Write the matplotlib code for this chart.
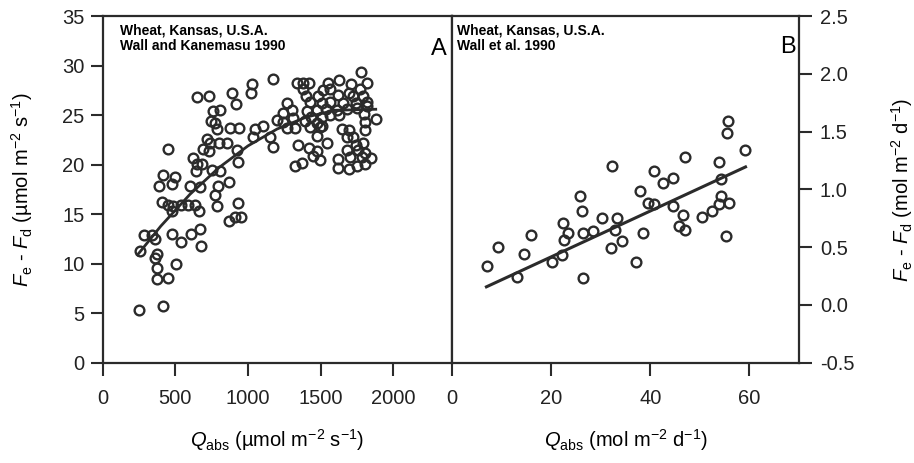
import numpy as np
import matplotlib
matplotlib.use("Agg")
import matplotlib.pyplot as plt

plt.rcParams['font.family'] = ['Liberation Sans', 'DejaVu Sans']
plt.rcParams['mathtext.fontset'] = 'custom'
plt.rcParams['mathtext.rm'] = 'Liberation Sans'
plt.rcParams['mathtext.it'] = 'Liberation Sans:italic'

# panel A: wheat, Wall and Kanemasu 1990 (umol m-2 s-1)
qa_x = [647, 734, 893, 918, 1026, 1019, 762, 808, 744, 773, 785, 877, 941, 1049, 1037,
        720, 739, 801, 854, 693, 734, 452, 927, 934, 624, 647, 682, 643, 751, 808, 870,
        417, 498, 475, 390, 601, 670, 796,
        1171, 1777, 1336, 1382, 1423, 1554, 1629, 1708, 1818, 1382, 1515, 1565, 1698, 1772,
        1400, 1485, 1623, 1722, 1791, 1428, 1508, 1565, 1653, 1744, 1822, 1267, 1302, 1409,
        1474, 1538, 1612, 1680, 1749, 1818, 1244, 1435, 1508, 1565, 1629, 1800, 1882, 1198,
        1244, 1313, 1393, 1474, 1508, 1806, 1106, 1267, 1324, 1428, 1497, 1646, 1698, 1806,
        1152, 1474, 1680, 1726, 1347, 1423, 1543, 1744, 1795, 1175, 1474, 1680, 1760, 1806,
        1446, 1497, 1623, 1703, 1784, 1846, 1324, 1371, 1623, 1698, 1749, 1806,
        773, 406, 452, 486, 539, 590, 636, 475, 665, 789, 934, 872, 911, 950, 284, 337, 360,
        475, 537, 606, 670, 675, 257, 376, 360, 505, 376, 376, 448, 252, 417]
qa_y = [26.8, 26.9, 27.2, 26.1, 28.2, 27.2, 25.4, 25.5, 24.4, 24.2, 23.6, 23.7, 23.7, 23.6, 22.8,
        22.6, 22.2, 22.2, 22.2, 21.6, 21.4, 21.6, 21.5, 20.3, 20.7, 20.1, 20.1, 19.4, 19.5, 19.4, 18.3,
        19.0, 18.8, 18.1, 17.8, 17.8, 17.7, 17.8,
        28.7, 29.4, 28.3, 28.3, 28.3, 28.3, 28.6, 28.2, 28.3, 27.6, 27.5, 27.6, 27.2, 27.6,
        26.9, 26.9, 27.0, 26.9, 26.9, 26.3, 26.2, 26.3, 26.2, 26.2, 26.3, 26.2, 25.5, 25.4,
        25.5, 25.6, 25.5, 25.6, 25.7, 25.9, 25.2, 24.8, 24.8, 25.0, 25.0, 25.1, 24.6, 24.5,
        24.3, 24.7, 24.4, 24.2, 23.9, 24.3, 23.9, 23.7, 23.7, 23.8, 23.8, 23.6, 23.5, 23.5,
        22.8, 22.9, 22.8, 22.8, 22.0, 21.7, 22.2, 22.0, 22.2, 21.8, 21.4, 21.5, 21.5, 21.2,
        20.9, 20.5, 20.6, 20.8, 20.8, 20.7, 19.9, 20.2, 19.7, 19.6, 19.9, 20.1,
        16.9, 16.2, 15.9, 15.8, 15.9, 15.9, 15.9, 15.3, 15.3, 15.8, 16.1, 14.3, 14.7, 14.7, 12.9, 12.9, 12.5,
        13.0, 12.2, 13.0, 13.5, 11.8, 11.3, 11.0, 10.6, 10.0, 9.6, 8.5, 8.6, 5.3, 5.7]
fit_a_x = [240, 400, 600, 800, 1000, 1200, 1400, 1600, 1880]
fit_a_y = [10.9, 13.8, 17.0, 19.7, 21.9, 23.6, 24.8, 25.5, 25.6]

# panel B: wheat, Wall et al. 1990 (mol m-2 d-1)
qb_x = [7.1, 9.3, 13.1, 14.5, 15.8, 20.2, 22.2, 22.4, 23.4, 22.6, 25.7, 26.1, 26.3, 26.3, 28.5,
        30.3, 32.3, 33.3, 32.9, 34.3, 32.1, 37.0, 38.6, 38.0, 39.6, 40.8, 40.8, 42.6, 44.6, 44.6,
        46.5, 45.7, 46.9, 46.9, 50.5, 52.5, 54.3, 53.9, 55.8, 55.2, 53.9, 54.3, 55.6, 55.4, 59.0]
qb_y = [0.34, 0.50, 0.24, 0.44, 0.61, 0.37, 0.43, 0.71, 0.62, 0.56, 0.94, 0.81, 0.62, 0.23, 0.64,
        0.75, 1.20, 0.75, 0.65, 0.55, 0.49, 0.37, 0.62, 0.99, 0.88, 0.87, 1.16, 1.06, 1.10, 0.86,
        0.78, 0.68, 0.65, 1.28, 0.76, 0.81, 0.94, 0.87, 0.88, 0.60, 1.24, 1.09, 1.59, 1.49, 1.34]
fit_b_x = [6.9, 59.2]
fit_b_y = [0.157, 1.195]

ink = '#2b2b2b'
tick_fs = 14.5

fig = plt.figure(figsize=(9.14, 4.63), dpi=100)
ax1 = fig.add_axes([0.1124, 0.2166, 0.3824, 0.7484])
ax2 = fig.add_axes([0.4948, 0.2166, 0.3794, 0.7484])

mk = dict(linestyle='none', marker='o', markersize=7, markerfacecolor='none',
          markeredgecolor=ink, markeredgewidth=1.7)

ax1.plot(qa_x, qa_y, **mk)
ax1.plot(fit_a_x, fit_a_y, color=ink, lw=2.0)
ax1.set_xlim(0, 2407)
ax1.set_ylim(0, 35)
ax1.set_xticks([0, 500, 1000, 1500, 2000])
ax1.set_yticks(np.arange(0, 36, 5))

ax2.plot(qb_x, qb_y, **mk)
ax2.plot(fit_b_x, fit_b_y, color=ink, lw=2.2)
ax2.set_xlim(0, 70)
ax2.set_ylim(-0.5, 2.5)
ax2.set_xticks([0, 20, 40, 60])
ax2.set_yticks([-0.5, 0.0, 0.5, 1.0, 1.5, 2.0, 2.5])
ax2.set_yticklabels(['-0.5', '0.0', '0.5', '1.0', '1.5', '2.0', '2.5'])
ax2.yaxis.tick_right()
ax2.yaxis.set_label_position('right')

for ax in (ax1, ax2):
    for sp in ax.spines.values():
        sp.set_linewidth(1.6)
        sp.set_color(ink)
    ax.tick_params(direction='out', length=9, width=1.5, color=ink,
                   labelsize=tick_fs, labelcolor='#222222')
    ax.tick_params(axis='x', pad=10)
ax1.tick_params(axis='y', pad=4)
ax2.tick_params(axis='y', pad=6)

ax1.set_xlabel(r'$Q_\mathrm{abs}$ (µmol m$^{-2}$ s$^{-1}$)', fontsize=14.5, labelpad=14)
ax1.set_ylabel(r'$F_\mathrm{e}$ - $F_\mathrm{d}$ (µmol m$^{-2}$ s$^{-1}$)', fontsize=14.5, labelpad=20)
ax2.set_xlabel(r'$Q_\mathrm{abs}$ (mol m$^{-2}$ d$^{-1}$)', fontsize=14.5, labelpad=14)
ax2.set_ylabel(r'$F_\mathrm{e}$ - $F_\mathrm{d}$ (mol m$^{-2}$ d$^{-1}$)', fontsize=14.5, labelpad=25)

note = dict(fontsize=10, fontweight='bold', va='top', ha='left', linespacing=1.2)
ax1.text(0.05, 0.98, 'Wheat, Kansas, U.S.A.\nWall and Kanemasu 1990', transform=ax1.transAxes, **note)
ax2.text(0.015, 0.98, 'Wheat, Kansas, U.S.A.\nWall et al. 1990', transform=ax2.transAxes, **note)
ax1.text(0.985, 0.905, 'A', transform=ax1.transAxes, fontsize=17, ha='right', va='center')
ax2.text(0.99, 0.91, 'B', transform=ax2.transAxes, fontsize=17, ha='right', va='center')

fig.savefig('out.png', dpi=100)
